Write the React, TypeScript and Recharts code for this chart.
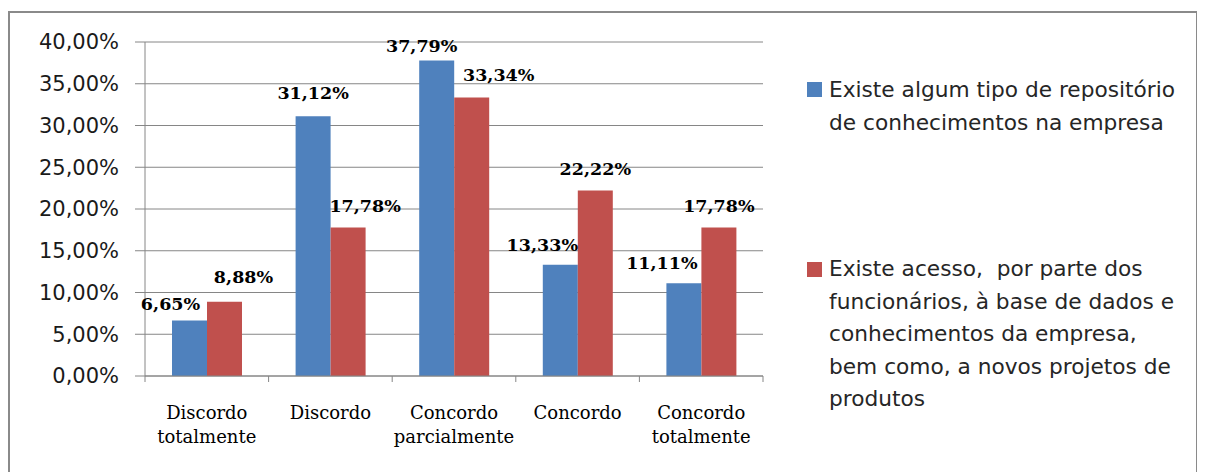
import { BarChart, Bar, XAxis, YAxis, CartesianGrid, LabelList } from "recharts";

const categories = [
  "Discordo\ntotalmente",
  "Discordo",
  "Concordo\nparcialmente",
  "Concordo",
  "Concordo\ntotalmente",
];

// percentages per category
const repositorio = [6.65, 31.12, 37.79, 13.33, 11.11];
const acesso = [8.88, 17.78, 33.34, 22.22, 17.78];

const yTicks = [0, 5, 10, 15, 20, 25, 30, 35, 40];

const seriesNames = [
  "Existe algum tipo de repositório de conhecimentos na empresa",
  "Existe acesso, por parte dos funcionários, à base de dados e conhecimentos da empresa, bem como, a novos projetos de produtos",
];
const legendLines = [
  ["Existe algum tipo de repositório", "de conhecimentos na empresa"],
  [
    "Existe acesso,  por parte dos",
    "funcionários, à base de dados e",
    "conhecimentos da empresa,",
    "bem como, a novos projetos de",
    "produtos",
  ],
];

// hand placement of the value labels, as in the original sheet
const blueNudge = [[-19, -17], [0, -23], [-15, -15], [-18, -20], [-22, -21]];
const redNudge = [[19, -25], [17, -22], [27, -23], [0, -22], [0, -22]];

const BLUE = "#4F81BD";
const RED = "#C0504D";
const GRID = "#868686";

const W = 1188;
const H = 464;
const PLOT_LEFT = 137;
const PLOT_W = 618;
const BAND = PLOT_W / categories.length;

const data = categories.map((name, i) => ({
  name,
  repositorio: repositorio[i],
  acesso: acesso[i],
}));

const fmt = (v: number) => `${Number(v).toFixed(2).replace(".", ",")}%`;

function CategoryTick(props: any) {
  const { x, y, payload, index } = props;
  const lines = String(payload.value).split("\n");
  return (
    <g>
      <line x1={x - BAND / 2} y1={y} x2={x - BAND / 2} y2={y + 6} stroke={GRID} />
      {index === categories.length - 1 && (
        <line x1={x + BAND / 2} y1={y} x2={x + BAND / 2} y2={y + 6} stroke={GRID} />
      )}
      <text
        x={x}
        y={y + 43}
        textAnchor="middle"
        fontFamily="DejaVu Serif"
        fontSize={18}
        fill="#000"
      >
        {lines.map((l, i) => (
          <tspan key={i} x={x} dy={i === 0 ? 0 : 24}>
            {l}
          </tspan>
        ))}
      </text>
    </g>
  );
}

const makeLabel = (nudges: number[][]) => (p: any) => {
  const { x, y, width, value, index } = p;
  const [dx, dy] = nudges[index] || [0, -20];
  return (
    <text
      x={Number(x) + Number(width) / 2 + dx}
      y={Number(y) + dy}
      dy="0.36em"
      textAnchor="middle"
      fontFamily="DejaVu Serif"
      fontWeight="bold"
      fontSize={17.5}
      fill="#000"
    >
      {fmt(value)}
    </text>
  );
};

const colors = [BLUE, RED];

export default function App() {
  return (
    <div style={{ position: "relative", width: W, height: H }}>
      <style>{"html,body{overflow:hidden}"}</style>
      <div style={{ position: "absolute", left: 0, top: 0 }}>
        <BarChart
          width={W}
          height={H}
          data={data}
          margin={{ top: 34, right: W - PLOT_LEFT - PLOT_W, bottom: 16, left: 0 }}
          barGap={0}
          barSize={35}
        >
          <CartesianGrid vertical={false} stroke={GRID} />
          <XAxis
            dataKey="name"
            height={80}
            interval={0}
            tickLine={false}
            tickSize={0}
            tickMargin={0}
            axisLine={{ stroke: GRID }}
            tick={<CategoryTick />}
          />
          <YAxis
            width={PLOT_LEFT}
            domain={[0, 40]}
            ticks={yTicks}
            interval={0}
            tickFormatter={fmt}
            tickSize={10}
            tickMargin={16}
            tickLine={{ stroke: GRID }}
            axisLine={{ stroke: GRID }}
            tick={{ fontFamily: "DejaVu Sans", fontSize: 21, fill: "#1a1a1a" }}
          />
          <Bar dataKey="repositorio" name={seriesNames[0]} fill={BLUE} isAnimationActive={false}>
            <LabelList dataKey="repositorio" content={makeLabel(blueNudge)} />
          </Bar>
          <Bar dataKey="acesso" name={seriesNames[1]} fill={RED} isAnimationActive={false}>
            <LabelList dataKey="acesso" content={makeLabel(redNudge)} />
          </Bar>
        </BarChart>
      </div>
      {legendLines.map((lines, k) => (
        <div
          key={k}
          style={{
            position: "absolute",
            left: 799,
            top: k === 0 ? 65 : 245,
            fontFamily: "DejaVu Sans",
            fontSize: 21.7,
            lineHeight: k === 0 ? "33px" : "32.5px",
            color: "#262626",
            whiteSpace: "pre",
          }}
        >
          <div
            style={{
              position: "absolute",
              left: 0,
              top: 9,
              width: 15,
              height: 15,
              background: colors[k],
            }}
          />
          <div style={{ marginLeft: 22 }}>
            {lines.map((l, i) => (
              <div key={i}>{l}</div>
            ))}
          </div>
        </div>
      ))}
      <div
        style={{
          position: "absolute",
          left: 0,
          top: 3,
          width: 1190,
          height: 470,
          border: "2px solid #8a8a8a",
          boxSizing: "border-box",
          pointerEvents: "none",
          zIndex: 2,
        }}
      />
    </div>
  );
}
